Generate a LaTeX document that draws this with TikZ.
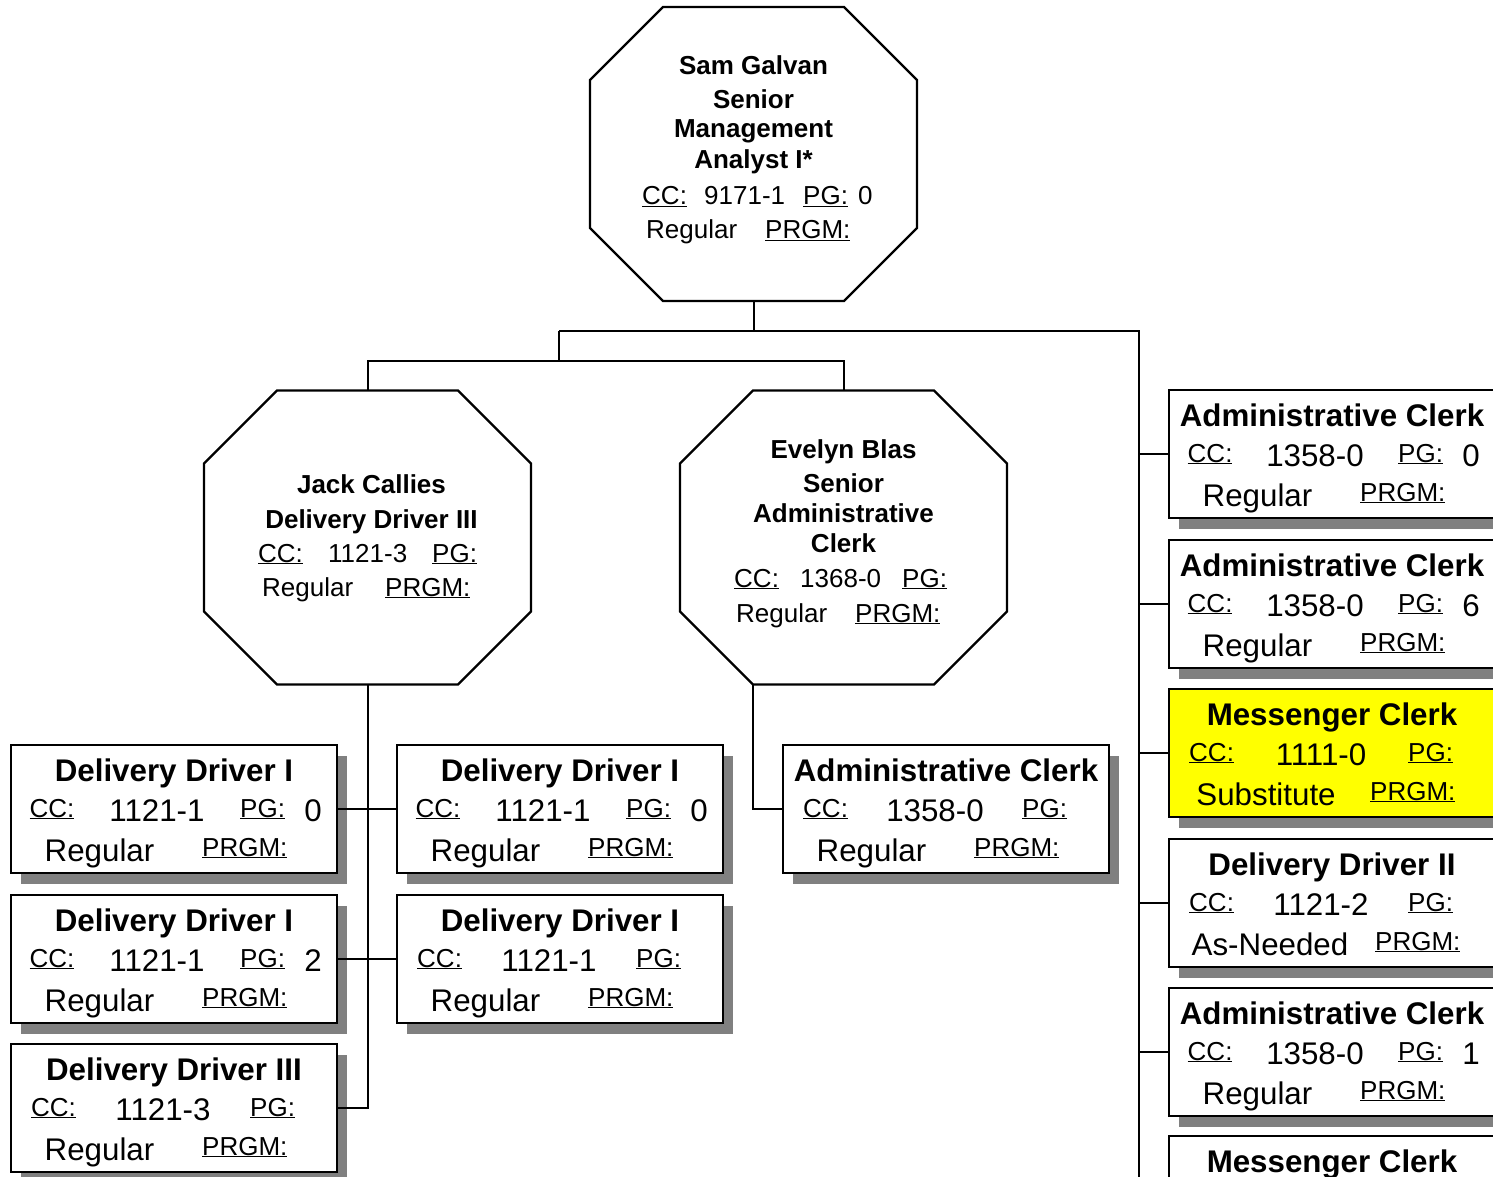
\documentclass[tikz,border=0pt]{standalone}
\usepackage{fontspec}
\setmainfont{Liberation Sans}
\usetikzlibrary{calc,shadows}

\definecolor{shadowgray}{RGB}{128,128,128}
\definecolor{hilite}{RGB}{255,255,0}

\tikzset{
  pbox/.style={draw, fill=white, line width=2.8pt, minimum width=326pt, minimum height=128pt,
    inner sep=0pt, outer sep=0pt,
    drop shadow={shadow xshift=10pt, shadow yshift=-11pt, fill=shadowgray, opacity=1}},
  octbox/.style={draw=none, minimum width=327pt, minimum height=294pt, inner sep=0pt, outer sep=0pt},
  octline/.style={draw, fill=white, line width=2.2pt, line join=miter},
  conn/.style={line width=2pt},
  ttl/.style={anchor=base, inner sep=0pt, font=\fontsize{31.3}{36}\selectfont\bfseries},
  val/.style={anchor=base, inner sep=0pt, font=\fontsize{31.3}{36}\selectfont},
  lbl/.style={anchor=base west, inner sep=0pt, font=\fontsize{26}{30}\selectfont},
  otxt/.style={anchor=base west, inner sep=0pt, font=\fontsize{26}{30}\selectfont},
  obold/.style={anchor=base, inner sep=0pt, font=\fontsize{26}{30}\selectfont\bfseries},
}

% position box: name, top-left, fill, title, class code, pay grade, status, status centre, PRGM left
\newcommand\posbox[9]{%
  \node[pbox, fill=#3] (#1) at ($(#2)+(163,64)$) {};
  \node[ttl] (#1-t) at ($(#1.north west)+(163,36.5)$) {#4};
  \if\relax\detokenize{#6}\relax
    \node[lbl] (#1-cl) at ($(#1.north west)+(20,72)$) {\underline{CC:}};
    \node[val] (#1-cc) at ($(#1.north west)+(152,76.5)$) {#5};
    \node[lbl] (#1-pl) at ($(#1.north west)+(239,72)$) {\underline{PG:}};
  \else
    \node[lbl] (#1-cl) at ($(#1.north west)+(18.5,72)$) {\underline{CC:}};
    \node[val] (#1-cc) at ($(#1.north west)+(146,76.5)$) {#5};
    \node[lbl] (#1-pl) at ($(#1.north west)+(229,72)$) {\underline{PG:}};
    \node[val] (#1-pg) at ($(#1.north west)+(302,76.5)$) {#6};
  \fi
  \node[val] (#1-s) at ($(#1.north west)+(#8,116)$) {#7};
  \node[lbl] (#1-pr) at ($(#1.north west)+(#9,111)$) {\underline{PRGM:}};
}

% octagonal supervisor shape: name, centre
\newcommand\octnode[2]{%
  \node[octbox] (#1) at (#2) {};
  \draw[octline] ([xshift=73pt]#1.north west) -- ([xshift=-73pt]#1.north east)
    -- ([yshift=-73pt]#1.north east) -- ([yshift=73pt]#1.south east)
    -- ([xshift=-73pt]#1.south east) -- ([xshift=73pt]#1.south west)
    -- ([yshift=73pt]#1.south west) -- ([yshift=-73pt]#1.north west) -- cycle;
}

\begin{document}
\begin{tikzpicture}[x=1pt, y=-1pt]
  \fill[white] (0,0) rectangle (1493,1176);
  \clip (0,0) rectangle (1493,1176);

  % supervisors
  \octnode{sam}{753.5,154}
  \node[obold] (sam-n)  at (753.5,74.5) {Sam Galvan};
  \node[obold] (sam-t1) at (753.5,108) {Senior};
  \node[obold] (sam-t2) at (753.5,137.5) {Management};
  \node[obold] (sam-t3) at (753.5,168) {Analyst I*};
  \node[otxt] (sam-cl) at (642,204.5) {\underline{CC:}};
  \node[otxt] (sam-cc) at (704,204.5) {9171-1};
  \node[otxt] (sam-pl) at (803,204.5) {\underline{PG:}};
  \node[otxt] (sam-pg) at (858,204.5) {0};
  \node[otxt] (sam-s)  at (646,238.5) {Regular};
  \node[otxt] (sam-pr) at (765,238.5) {\underline{PRGM:}};

  \octnode{jack}{367.5,537.5}
  \node[obold] (jack-n)  at (371.5,493) {Jack Callies};
  \node[obold] (jack-t1) at (371.5,528) {Delivery Driver III};
  \node[otxt] (jack-cl) at (258,562) {\underline{CC:}};
  \node[otxt] (jack-cc) at (328,562) {1121-3};
  \node[otxt] (jack-pl) at (432,562) {\underline{PG:}};
  \node[otxt] (jack-s)  at (262,596) {Regular};
  \node[otxt] (jack-pr) at (385,596) {\underline{PRGM:}};

  \octnode{evelyn}{843.5,537.5}
  \node[obold] (ev-n)  at (843.5,458) {Evelyn Blas};
  \node[obold] (ev-t1) at (843.5,492) {Senior};
  \node[obold] (ev-t2) at (843.5,522) {Administrative};
  \node[obold] (ev-t3) at (843.5,552) {Clerk};
  \node[otxt] (ev-cl) at (734,587) {\underline{CC:}};
  \node[otxt] (ev-cc) at (800,587) {1368-0};
  \node[otxt] (ev-pl) at (902,587) {\underline{PG:}};
  \node[otxt] (ev-s)  at (736,622) {Regular};
  \node[otxt] (ev-pr) at (855,622) {\underline{PRGM:}};

  % positions
  \posbox{dd1}{11,745}{white}{Delivery Driver I}{1121-1}{0}{Regular}{88.5}{191}
  \posbox{dd2}{11,895}{white}{Delivery Driver I}{1121-1}{2}{Regular}{88.5}{191}
  \posbox{dd3}{11,1044}{white}{Delivery Driver III}{1121-3}{}{Regular}{88.5}{191}
  \posbox{dd4}{397,745}{white}{Delivery Driver I}{1121-1}{0}{Regular}{88.5}{191}
  \posbox{dd5}{397,895}{white}{Delivery Driver I}{1121-1}{}{Regular}{88.5}{191}
  \posbox{ac1}{783,745}{white}{Administrative Clerk}{1358-0}{}{Regular}{88.5}{191}
  \posbox{ac2}{1169,390}{white}{Administrative Clerk}{1358-0}{0}{Regular}{88.5}{191}
  \posbox{ac3}{1169,540}{white}{Administrative Clerk}{1358-0}{6}{Regular}{88.5}{191}
  \posbox{mc1}{1169,689}{hilite}{Messenger Clerk}{1111-0}{}{Substitute}{97}{201}
  \posbox{dd6}{1169,839}{white}{Delivery Driver II}{1121-2}{}{As-Needed}{101}{206}
  \posbox{ac4}{1169,988}{white}{Administrative Clerk}{1358-0}{1}{Regular}{88.5}{191}
  \node[pbox] (mc2) at (1332,1200) {};
  \node[ttl] (mc2-t) at ($(mc2.north west)+(163,36.5)$) {Messenger Clerk};

  % reporting lines
  \coordinate (busL) at (559,331);
  \coordinate (busR) at (1139,331);
  \coordinate (split) at (559,361);
  \draw[conn] (sam.south) -- (sam.south |- busL);
  \draw[conn] (busL) -- (busR) -- (mc2.west -| busR);
  \draw[conn] (busL) -- (split);
  \draw[conn] (jack.north) |- (split) -| (evelyn.north);
  \foreach \b in {ac2,ac3,mc1,dd6,ac4,mc2}
    \draw[conn] (\b.west -| busR) -- (\b.west);
  \draw[conn] (jack.south) |- (dd3.east);
  \draw[conn] (dd1.east) -- (dd4.west);
  \draw[conn] (dd2.east) -- (dd5.west);
  \draw[conn] ([xshift=-90.5pt]evelyn.south) |- (ac1.west);
\end{tikzpicture}
\end{document}
